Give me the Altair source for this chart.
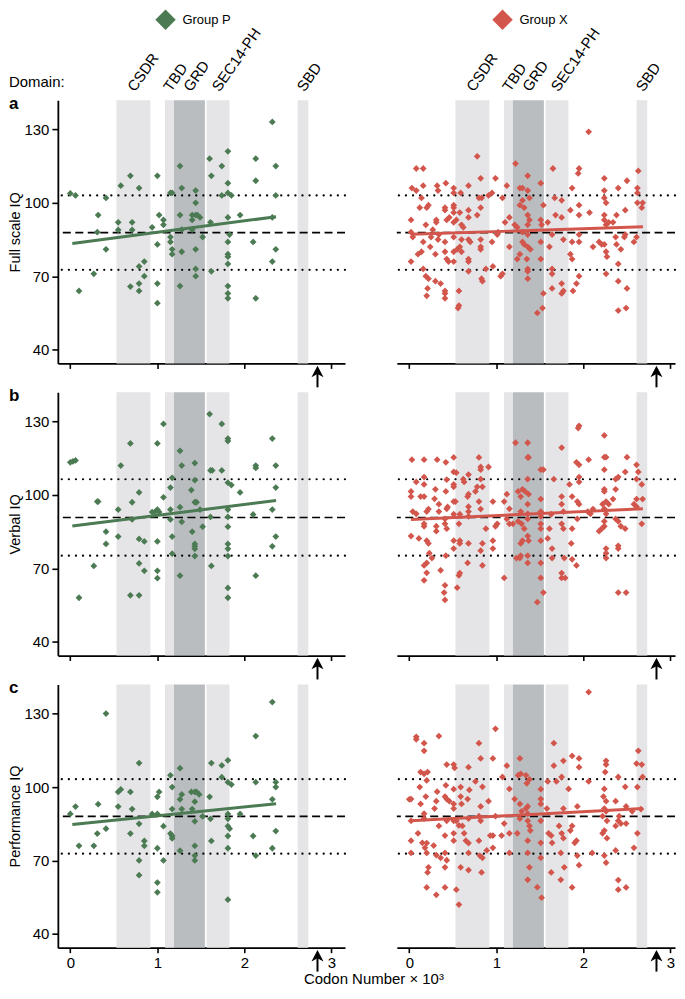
import altair as alt
import pandas as pd

FONT = "Liberation Sans"
GREEN = "#4b7a53"
RED = "#d2564c"
LIGHT = "#e5e5e8"
DARK = "#b9bdc0"

# ---------------- data ----------------
domain_names = ["CSDR", "TBD", "GRD", "SEC14-PH", "SBD"]
domain_start = [0.530, 1.088, 1.191, 1.565, 2.611]
domain_end = [0.920, 1.191, 1.546, 1.828, 2.733]
protein_end = 2.839

x_ticks = [0, 1, 2, 3]
y_ticks = [40, 70, 100, 130]
row_titles = ["Full scale IQ", "Verbal IQ", "Performance IQ"]
row_letters = ["a", "b", "c"]
group_names = ["Group P", "Group X"]
ref_mean = [87.8, 90.8, 88.0]
ref_sd = [15.2, 15.6, 15.2]

fit_x_P = [0.023, 2.363]
fit_x_X = [0.019, 2.683]
fit_y_P = [[83.4, 94.3], [87.3, 97.7], [84.7, 93.2]]
fit_y_X = [[87.1, 90.2], [90.0, 94.3], [86.2, 91.2]]

# Group P (codon x10^3, IQ)
P_FULL = [(0.00,103.8),(0.06,103),(0.10,64),(0.27,71),(0.31,88),(0.32,95),(0.41,81),(0.41,102),(0.55,92),(0.55,88.9),
          (0.58,107),(0.69,111),(0.71,92),(0.71,88.9),(0.69,65.8),(0.79,106),(0.79,74),(0.79,67),(0.79,64),(0.85,70),
          (0.85,76),(0.94,90),(1.00,111),(1.00,83),(1.00,67),(1.00,59),(1.02,95),(1.07,93),(1.07,91),(1.15,104),
          (1.17,104),(1.15,86),(1.15,84),(1.17,81),(1.17,79),(1.26,115),(1.28,106),(1.26,95),(1.28,89),(1.28,80),
          (1.26,66),(1.40,95),(1.44,105),(1.44,100),(1.44,95),(1.46,95),(1.49,94),(1.40,93),(1.40,89),(1.44,81),
          (1.44,73),(1.44,70),(1.52,86),(1.60,118),(1.62,111),(1.61,92),(1.62,72),(1.74,115),(1.74,103),(1.81,121),
          (1.81,108),(1.81,104),(1.85,103),(1.81,94),(1.83,87),(1.81,84),(1.81,79),(1.81,78),(1.81,75),(1.81,66),
          (1.81,63),(1.81,61),(1.95,95),(2.13,118),(2.13,109),(2.10,84),(2.13,61),(2.32,133),(2.32,94),(2.32,76),
          (2.36,115),(2.36,103),(2.36,81)]
P_VERBAL = [(0.00,113.3),(0.03,113.7),(0.06,114.1),(0.10,58),(0.27,71),(0.31,97.3),(0.32,97.3),(0.41,85),(0.41,80),
            (0.55,94),(0.55,83),(0.58,112),(0.69,121),(0.71,97),(0.71,90),(0.69,59),(0.79,101),(0.79,82),(0.79,72),
            (0.79,59),(0.85,81),(0.85,69),(0.94,93),(0.97,93),(1.00,121),(1.00,94),(1.00,81),(1.00,69),(1.00,66),
            (1.02,93),(1.07,129),(1.07,99),(1.15,103),(1.17,107),(1.15,94),(1.15,90),(1.17,83),(1.17,76),(1.26,118),
            (1.28,112),(1.26,95),(1.28,89),(1.26,67),(1.40,85),(1.39,102),(1.43,113),(1.43,106),(1.43,97),(1.45,97),
            (1.49,94),(1.43,80),(1.43,79),(1.43,78),(1.43,75),(1.52,87),(1.60,133),(1.61,110),(1.63,110),(1.61,91),
            (1.62,71),(1.74,129),(1.74,110),(1.81,123),(1.81,122),(1.81,105),(1.85,104),(1.81,94),(1.81,91),(1.81,87),
            (1.81,80),(1.81,78),(1.81,75),(1.81,62),(1.81,58),(1.95,101),(2.10,92),(2.13,112),(2.13,111),(2.13,67),
            (2.32,123),(2.32,94),(2.32,79),(2.36,112),(2.36,103),(2.36,83)]
P_PERF = [(0.41,130),(2.32,134.7),(2.13,120.8),(0.79,109.8),(1.26,107.7),(1.62,109.8),(1.74,108.8),(1.81,110.9),
          (1.15,104.8),(1.17,100),(1.74,104),(1.81,102),(1.85,101),(2.13,102),(2.36,102),(2.36,100),(0.00,89),
          (0.06,92),(0.10,76),(0.27,76),(0.31,81),(0.32,93),(0.41,83),(0.55,92),(0.55,98),(0.58,99),(0.69,98),
          (0.71,91),(0.69,81),(0.79,85),(0.79,70),(0.79,64),(0.85,78),(0.85,76),(0.94,89),(1.00,96),(1.02,98),
          (1.00,89),(1.00,75),(1.00,61),(1.00,57),(1.07,84),(1.07,70),(1.15,81),(1.17,80),(1.17,79),(1.17,91),
          (1.28,97),(1.26,95),(1.28,91),(1.26,74),(1.40,91),(1.39,98),(1.43,98),(1.45,98),(1.48,97),(1.43,94),
          (1.43,86),(1.43,76),(1.43,72),(1.43,70),(1.52,88),(1.60,96),(1.61,87),(1.62,78),(1.81,89),(1.81,87),
          (1.81,84),(1.83,83),(1.81,80),(1.81,75),(1.81,54),(1.95,89),(2.10,80),(2.13,72),(2.32,95),(2.32,75),
          (2.36,82)]

# Group X (codon x10^3, IQ)
X_FULL = [(0.08,114),(0.16,114),(0.03,106),(0.08,105),(0.16,107),(0.14,102),(0.12,98),(0.20,98),(0.22,99),(0.02,93),
          (0.19,91),(0.02,88),(0.04,86),(0.16,84),(0.10,79),(0.02,76),(0.16,73),(0.19,70),(0.22,69),(0.21,65),
          (0.20,62),(0.14,80),(0.27,89),(0.24,82),(0.25,86),(0.30,68),(0.36,67),(0.41,61),(0.41,63),(0.41,64),
          (0.30,79),(0.32,107),(0.33,105),(0.42,108),(0.31,93),(0.31,92),(0.34,87),(0.33,85),(0.41,98),(0.41,97),
          (0.43,93),(0.46,94),(0.41,84),(0.41,80),(0.43,77),(0.45,76),(0.51,106),(0.51,104),(0.51,99),(0.51,98),
          (0.51,96),(0.51,92),(0.54,93),(0.51,86),(0.51,80),(0.51,76),(0.55,81),(0.56,57),(0.57,58),(0.57,64),
          (0.58,96),(0.60,91),(0.62,90),(0.59,104),(0.60,85),(0.58,82),(0.60,80),(0.68,107),(0.68,97),(0.68,94),
          (0.68,85),(0.70,84),(0.68,77),(0.68,76),(0.68,72),(0.78,119),(0.82,110),(0.80,102),(0.83,102),(0.82,98),
          (0.78,95),(0.82,85),(0.82,82),(0.82,81),(0.83,69),(0.84,68),(0.88,73),(0.91,103),(0.95,104),(0.95,84),
          (0.96,74),(0.99,110),(1.01,87),(1.05,70),(1.07,71),(1.07,102),(1.12,107),(1.10,92),(1.15,94),(1.15,82),
          (1.22,116),(1.21,91),(1.24,90),(1.24,77),(1.27,79),(1.27,106),(1.30,106),(1.27,99),(1.30,101),(1.36,111),
          (1.36,105),(1.38,102),(1.32,98),(1.36,95),(1.38,93),(1.36,91),(1.30,88),(1.36,87),(1.30,84),(1.32,83),
          (1.36,82),(1.39,81),(1.35,77),(1.36,73),(1.36,72),(1.36,69),(1.47,55),(1.53,57),(1.54,63),(1.51,108),
          (1.54,99),(1.51,93),(1.52,91),(1.51,84),(1.51,77),(1.59,92),(1.61,82),(1.64,73),(1.64,71),(1.64,65),
          (1.65,114),(1.67,102),(1.68,95),(1.64,87),(1.75,101),(1.75,94),(1.77,85),(1.75,67),(1.77,64),(1.75,63),
          (1.85,79),(1.87,77),(1.85,97),(1.87,106),(1.87,84),(1.88,64),(1.92,67),(1.95,70),(1.95,87),(1.95,84),
          (1.94,112),(1.95,114),(1.95,99),(1.95,95),(2.07,96),(2.06,129),(2.11,82),(2.18,84),(2.21,83),(2.24,110),
          (2.24,105),(2.24,102),(2.26,100),(2.24,95),(2.24,93),(2.26,91),(2.24,83),(2.26,80),(2.27,78),(2.26,71),
          (2.29,92),(2.34,92),(2.38,95),(2.38,83),(2.37,86),(2.40,75),(2.40,68),(2.40,106),(2.43,81),(2.48,87),
          (2.47,86),(2.48,97),(2.50,109),(2.50,65),(2.40,56),(2.49,57),(2.58,84),(2.61,86),(2.63,113),(2.62,106),
          (2.62,104),(2.62,100),(2.68,100),(2.67,98),(1.02,88)]
X_VERBAL = [(0.03,114.4),(0.17,114.4),(0.32,114.4),(0.42,113.3),(0.51,115.3),(0.80,115.3),(0.17,107.3),(0.08,105.3),
            (0.17,104.3),(0.02,101.4),(0.02,99.3),(0.13,99.3),(0.17,99.3),(0.30,102.3),(0.29,98.4),(0.22,94.2),
            (0.20,93.2),(0.04,93.2),(0.08,92.3),(0.17,88.2),(0.17,87.2),(0.02,83.2),(0.11,82.2),(0.20,81.3),
            (0.22,80.2),(0.23,76.2),(0.20,72.2),(0.20,68.2),(0.17,71.2),(0.17,65.1),(0.34,96.2),(0.34,93.2),
            (0.31,87.2),(0.31,85.2),(0.26,74.2),(0.36,69.2),(0.42,75.2),(0.41,63.1),(0.40,60.1),(0.41,57.1),
            (0.43,106.2),(0.42,101.4),(0.43,94.3),(0.41,90.2),(0.41,88.2),(0.43,86.2),(0.44,95.1),(0.51,109.4),
            (0.54,109.1),(0.51,104.3),(0.51,103.3),(0.51,97.3),(0.53,97.3),(0.51,92.1),(0.58,92.1),(0.57,88.2),
            (0.51,81.3),(0.51,78.1),(0.58,81.3),(0.58,80.2),(0.57,67.1),(0.58,68.1),(0.55,62.1),(0.62,106.4),
            (0.63,105.3),(0.68,108.3),(0.68,100.3),(0.67,99.3),(0.68,95.2),(0.68,93.2),(0.68,91.2),(0.68,80.2),
            (0.67,72.2),(0.76,101.4),(0.78,103.3),(0.82,111.4),(0.82,110.3),(0.84,103.3),(0.82,106.4),(0.80,97.3),
            (0.82,94.2),(0.84,80.2),(0.82,77.2),(0.84,71.2),(0.91,111.4),(0.88,86.2),(0.96,97.3),(0.96,81.3),
            (0.96,78.1),(0.99,87.2),(1.01,88.2),(1.09,97.3),(1.09,66.1),(1.12,100.3),(1.15,94.3),(1.15,88.2),
            (1.12,90.2),(1.19,88.2),(1.22,121.3),(1.36,121.3),(1.37,115.3),(1.36,115.3),(1.25,101.4),(1.28,99.3),
            (1.30,102.3),(1.33,101.4),(1.36,106.4),(1.37,100.3),(1.36,96.2),(1.28,93.2),(1.36,92.3),(1.36,90.2),
            (1.29,88.2),(1.25,89.2),(1.32,86.2),(1.28,80.2),(1.30,81.3),(1.36,83.2),(1.37,81.3),(1.27,74.2),
            (1.23,74.2),(1.28,75.2),(1.36,75.2),(1.36,72.2),(1.51,110.3),(1.54,110.3),(1.51,98.3),(1.51,93.2),
            (1.51,91.2),(1.51,88.2),(1.51,86.2),(1.51,81.3),(1.51,72.2),(1.51,66.1),(1.54,60.1),(1.47,56.2),
            (1.66,106.4),(1.75,119.3),(1.63,92.1),(1.59,82.2),(1.61,86.2),(1.64,78.1),(1.64,74.2),(1.75,68.1),
            (1.75,66.1),(1.79,66.1),(1.75,99.3),(1.75,96.2),(1.77,93.2),(1.75,88.2),(1.77,86.2),(1.78,74.2),
            (1.86,80.2),(1.87,86.2),(1.87,73.7),(1.92,71.2),(1.95,128.2),(1.94,127.3),(1.92,113.3),(1.95,112.3),
            (2.06,114.4),(1.84,104.3),(1.95,105.3),(1.95,107.3),(1.87,99.3),(1.93,97.3),(1.95,96.2),(1.93,90.2),
            (2.05,93.2),(2.11,94.2),(2.08,92.3),(2.24,124.3),(2.24,115.4),(2.26,115.4),(2.24,110.3),(2.24,102.3),
            (2.24,101.4),(2.26,97.3),(2.22,96.2),(2.29,96.2),(2.24,94.3),(2.26,92.3),(2.24,89.2),(2.24,87.2),
            (2.18,85.2),(2.21,86.2),(2.26,78.1),(2.26,76.2),(2.26,74.2),(2.34,98.3),(2.37,90.2),(2.40,89.2),
            (2.43,87.2),(2.48,86.2),(2.37,106.4),(2.40,107.3),(2.48,109.4),(2.50,115.4),(2.37,102.3),(2.40,79.2),
            (2.40,78.1),(2.58,96.2),(2.61,95.2),(2.61,112.3),(2.63,109.4),(2.61,106.4),(2.67,104.3),(2.61,98.3),
            (2.68,98.3),(2.67,88.2),(2.40,60.1),(2.49,60.1)]
X_PERF = [(2.06,138.8),(0.08,120.5),(0.08,119.5),(0.17,117.9),(0.17,114.8),(0.34,120.8),(0.99,123.8),(0.80,117.9),
          (0.82,111.7),(0.96,111.7),(1.27,111.7),(1.66,117.9),(1.77,110.7),(1.87,112.7),(1.95,111.7),(2.26,110.7),
          (2.63,114.8),(1.12,108.7),(1.66,108.7),(0.52,107.8),
          (0.13,106.1),(0.17,105.4),(0.20,102.7),(0.21,106.1),(0.12,100),(0.19,96.1),(0.02,95.1),(0.13,93.1),
          (0.32,98.1),(0.31,94.2),(0.29,91.2),(0.17,89.1),(0.17,87.1),(0.02,86.2),(0.10,81.1),(0.02,78.1),
          (0.15,77.2),(0.20,77.1),(0.18,75.2),(0.02,73.1),(0.20,73.1),(0.28,76.1),(0.31,72.2),(0.22,67.2),
          (0.21,65.1),(0.20,59.0),(0.31,56.0),(0.41,59.0),(0.36,71.1),(0.43,70.1),(0.41,67.2),(0.41,73.1),
          (0.41,80.2),(0.34,84.1),(0.43,86.2),(0.42,100.7),(0.41,96.1),(0.43,95.1),(0.46,94.2),(0.51,109.2),
          (0.43,109.2),(0.51,99.1),(0.51,93.1),(0.51,91.2),(0.51,86.2),(0.51,81.1),(0.51,78.1),(0.57,84.3),
          (0.54,86.2),(0.59,100),(0.59,96.1),(0.60,93.1),(0.61,84.1),(0.63,81.1),(0.54,58.1),(0.57,52),
          (0.59,67.2),(0.65,78.1),(0.68,77.1),(0.68,73.1),(0.68,66.1),(0.68,108.1),(0.69,98.8),(0.67,95.1),
          (0.68,87.1),(0.76,102.3),(0.82,92.1),(0.80,88.1),(0.82,86.2),(0.81,72.0),(0.84,71.1),(0.83,65.1),
          (0.80,78.1),(0.84,100.1),(0.91,94.2),(0.89,74.1),(0.96,80.2),(0.96,75.2),(0.93,80.2),(0.99,88.1),
          (1.06,80.2),(1.07,104.1),(1.09,85.1),(1.15,99.2),(1.15,81.1),(1.15,73.1),(1.21,95.1),(1.24,81.1),
          (1.27,93.1),(1.25,104.8),(1.28,105.4),(1.34,104.8),(1.38,103.1),(1.35,101.5),(1.27,87.1),(1.29,90.1),
          (1.34,91.2),(1.36,92.1),(1.36,89.1),(1.36,86.2),(1.38,84.1),(1.39,82.2),(1.36,78.1),(1.36,73.1),
          (1.38,67.2),(1.36,62.1),(1.47,59.1),(1.51,99.1),(1.51,95.1),(1.51,93.1),(1.51,86.2),(1.51,77.2),
          (1.51,71.1),(1.52,54.8),(1.60,81.1),(1.63,80.2),(1.59,102.3),(1.58,91.2),(1.64,77.2),(1.63,65.1),
          (1.69,102.3),(1.75,104.1),(1.77,91.2),(1.72,84.1),(1.75,81.1),(1.77,79.1),(1.74,73.1),(1.78,67.2),
          (1.74,62.1),(1.83,99.2),(1.85,82.2),(1.87,84.1),(1.87,59.0),(1.90,77.2),(1.92,78.1),(1.93,72.0),
          (1.95,68.1),(1.93,92.1),(1.95,108.1),(2.06,102.3),(2.10,73.1),(2.23,96.1),(2.24,99.2),(2.26,94.2),
          (2.24,91.2),(2.26,90.1),(2.22,88.1),(2.27,86.2),(2.24,82.2),(2.22,81.1),(2.27,79.1),(2.24,72.0),
          (2.26,69.1),(2.25,106.1),(2.26,109.2),(2.40,104.1),(2.37,94.2),(2.40,86.2),(2.43,85.1),(2.49,85.1),
          (2.37,84.1),(2.49,92.1),(2.48,100.1),(2.37,74.1),(2.40,62.0),(2.40,58.1),(2.49,59.0),(2.41,88.1),
          (2.61,109.6),(2.67,109.2),(2.68,104.1),(2.62,100.0),(2.66,91.0),(2.62,81.1),(2.58,75.2),(2.56,90.1),
          (0.00,95)]

# ---------------- layout ----------------
H = 264
PX_PER_UNIT = 87.33
X_MIN = -0.143
WIDTHS = [288, 279]           # left / right column plot widths
YSCALE = alt.Scale(domain=[34.4, 141.9], nice=False, zero=False)

band_df = pd.DataFrame({"name": domain_names, "start": domain_start, "end": domain_end})
label_df = pd.DataFrame({"name": domain_names,
                         "c": [(s + e) / 2 for s, e in zip(domain_start, domain_end)]})
arrow_df = pd.DataFrame({"x": [protein_end]})
ARROW_PATH = "M0,-1L0.9,0.72L0,0.25L-0.9,0.72Z"


def panel(row, col):
    color = GREEN if col == 0 else RED
    pts = [[P_FULL, P_VERBAL, P_PERF], [X_FULL, X_VERBAL, X_PERF]][col][row]
    fx = fit_x_P if col == 0 else fit_x_X
    fy = (fit_y_P if col == 0 else fit_y_X)[row]
    bottom = row == 2
    W = WIDTHS[col]
    xscale = alt.Scale(domain=[X_MIN, X_MIN + W / PX_PER_UNIT], nice=False, zero=False)

    xaxis = alt.Axis(values=x_ticks, labels=bottom, title=None, grid=False,
                     domainColor="black", domainWidth=1.8, tickColor="black",
                     tickWidth=1.6, tickSize=5, labelFontSize=15, labelPadding=3,
                     labelColor="black", labelFlush=False, format="d")
    if col == 0:
        yaxis = alt.Axis(values=y_ticks, title=row_titles[row], grid=False,
                         domainColor="black", domainWidth=1.8, tickColor="black",
                         tickWidth=1.6, tickSize=6, labelFontSize=15, labelPadding=3,
                         labelColor="black", titleFontSize=14.5, titleFontWeight="normal",
                         titleColor="black", titleX=-38, titleBaseline="alphabetic")
    else:
        yaxis = None

    def X(field):
        return alt.X(field, scale=xscale, axis=xaxis)

    def Y(field):
        return alt.Y(field, scale=YSCALE, axis=yaxis)

    bands = alt.Chart(band_df).mark_rect().encode(
        x=X("start:Q"),
        x2="end:Q",
        y=alt.value(0), y2=alt.value(H),
        color=alt.condition(alt.datum.name == "GRD", alt.value(DARK), alt.value(LIGHT)),
    )
    m, s = ref_mean[row], ref_sd[row]
    dashed = alt.Chart(pd.DataFrame({"v": [m]})).mark_rule(
        color="black", strokeWidth=1.6, strokeDash=[8, 4.5]
    ).encode(y=Y("v:Q"))
    dotted = alt.Chart(pd.DataFrame({"v": [m - s, m + s]})).mark_rule(
        color="black", strokeWidth=2.2, strokeDash=[0.1, 7], strokeCap="round"
    ).encode(y=Y("v:Q"))
    pdf = pd.DataFrame(pts, columns=["x", "y"])
    points = alt.Chart(pdf).mark_point(shape="diamond", filled=True, size=46,
                                       opacity=1, color=color).encode(
        x=X("x:Q"), y=Y("y:Q"))
    fit = alt.Chart(pd.DataFrame({"x": fx, "y": fy})).mark_line(
        color=color, strokeWidth=3).encode(x=X("x:Q"), y=Y("y:Q"))
    shaft = alt.Chart(arrow_df).mark_rule(color="black", strokeWidth=2).encode(
        x=X("x:Q"), y=alt.value(H + 8), y2=alt.value(H + 24))
    head = alt.Chart(arrow_df).mark_point(shape=ARROW_PATH, filled=True, size=180,
                                          opacity=1, color="black").encode(
        x=X("x:Q"), y=alt.value(H + 9))
    layers = [bands, dotted, dashed, points, fit, shaft, head]

    if row == 0:
        layers.append(alt.Chart(label_df).mark_text(
            angle=305, align="left", baseline="bottom", fontSize=15, color="black",
            dx=2.3, dy=3.3
        ).encode(x=X("c:Q"), y=alt.value(-6), text="name:N"))
        g = pd.DataFrame({"g": [group_names[col]]})
        sx = 108 if col == 0 else 106
        layers.append(alt.Chart(g).mark_point(shape="diamond", filled=True, size=420,
                                              opacity=1, color=color).encode(
            x=alt.value(sx), y=alt.value(-80.7)))
        layers.append(alt.Chart(g).mark_text(align="left", baseline="middle", fontSize=13,
                                             color="black").encode(
            x=alt.value(sx + 17), y=alt.value(-80.7), text="g:N"))
        if col == 0:
            layers.append(alt.Chart(pd.DataFrame({"t": ["Domain:"]})).mark_text(
                align="left", baseline="alphabetic", fontSize=15, color="black"
            ).encode(x=alt.value(-49), y=alt.value(-13), text="t:N"))
    if col == 0:
        layers.append(alt.Chart(pd.DataFrame({"t": [row_letters[row]]})).mark_text(
            align="left", baseline="alphabetic", fontSize=17, fontWeight="bold", color="black"
        ).encode(x=alt.value(-49), y=alt.value(9), text="t:N"))
        if bottom:
            layers.append(alt.Chart(pd.DataFrame({"t": ["Codon Number × 10³"]})).mark_text(
                align="center", baseline="alphabetic", fontSize=15, color="black"
            ).encode(x=alt.value(317), y=alt.value(H + 36), text="t:N"))

    return alt.layer(*layers).properties(width=W, height=H)


panels = [panel(r, c) for r in range(3) for c in range(2)]
chart = alt.concat(*panels, columns=2).properties(
    spacing=alt.RowColnumber(row=29, column=52), bounds="flush", padding=0
).configure(font=FONT).configure_view(stroke=None)

chart.save("out.html", embed_options={"renderer": "svg", "actions": False})
